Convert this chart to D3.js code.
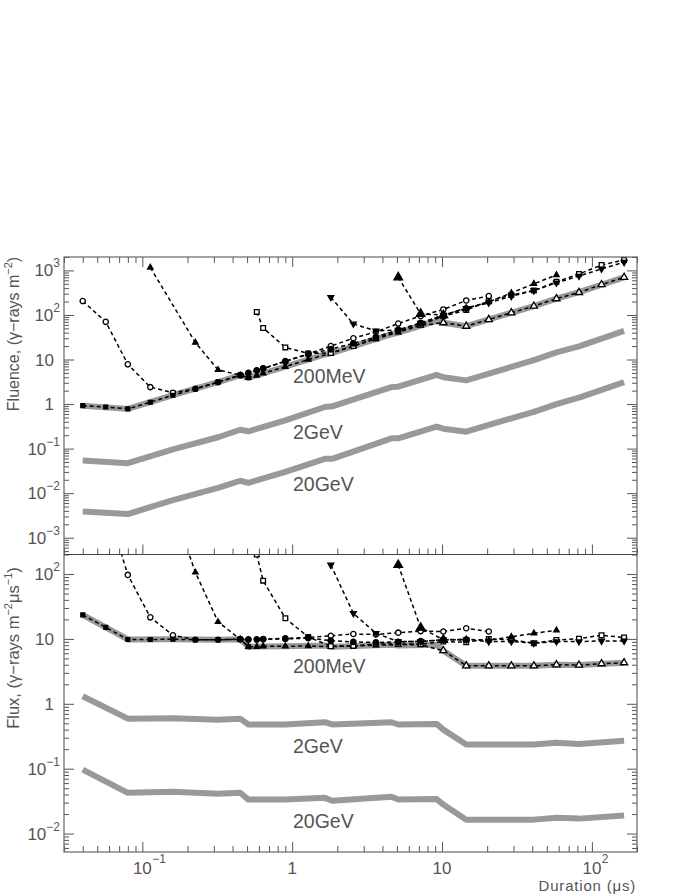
<!DOCTYPE html>
<html>
<head>
<meta charset="utf-8">
<script src="https://cdn.jsdelivr.net/npm/d3@7"></script>
<style>
    body { margin: 0; background: #fff; }
    svg { display: block; }
    text { font-family: "Liberation Sans", Arial, sans-serif; fill: #555; }
</style>
</head>
<body>
<svg id="chart" width="691" height="894"></svg>
<script>
// ---- thick grey envelopes (200MeV, 2GeV, 20GeV) ----
const envDur = [0.04, 0.08, 0.16, 0.32, 0.45, 0.51, 0.9, 1.65, 1.85, 4.6, 5.1, 9.2, 10.2, 14.5, 29, 41, 58, 82, 164];
const env200MeVFlu = [0.92, 0.78, 1.58, 3.1, 4.45, 3.9, 6.9, 13, 14, 37, 40, 74, 67, 56, 112, 158, 232, 324, 700];
const env2GeVFlu = [0.054, 0.047, 0.096, 0.18, 0.265, 0.245, 0.43, 0.86, 0.89, 2.4, 2.45, 4.5, 4.0, 3.4, 6.8, 9.7, 14.5, 19.7, 44];
const env20GeVFlu = [0.0039, 0.0034, 0.007, 0.0131, 0.019, 0.017, 0.030, 0.059, 0.059, 0.17, 0.17, 0.31, 0.28, 0.24, 0.48, 0.67, 1.0, 1.4, 3.1];
const env200MeVFlx = [23.5, 9.8, 9.9, 9.7, 9.9, 7.6, 7.7, 7.9, 7.6, 8.1, 7.9, 8.1, 6.6, 3.85, 3.85, 3.85, 4.0, 3.95, 4.3];
const env2GeVFlx = [1.31, 0.59, 0.60, 0.57, 0.59, 0.48, 0.48, 0.52, 0.48, 0.52, 0.48, 0.49, 0.40, 0.236, 0.236, 0.236, 0.25, 0.24, 0.27];
const env20GeVFlx = [0.097, 0.0425, 0.044, 0.041, 0.0425, 0.0334, 0.0334, 0.0355, 0.032, 0.037, 0.0334, 0.034, 0.028, 0.0164, 0.0164, 0.0164, 0.0175, 0.017, 0.019];
const envNames = ['200MeV', '2GeV', '20GeV'];

// ---- dashed sensitivity curves ----
const durC1 = [0.04, 0.057, 0.08, 0.113, 0.16, 0.226, 0.32, 0.45, 0.64, 0.9, 1.28, 1.81, 2.56, 3.62, 5.1, 7.2, 10.2, 14.5, 20.5];
const fluC1 = [205, 70, 7.8, 2.4, 1.8, 2.2, 3.1, 4.45, 6.3, 9.2, 13.4, 20, 30, 42, 64, 95, 133, 212, 267];
const flxC1 = [5100, 1230, 97, 21.5, 11.4, 9.7, 9.7, 9.9, 9.9, 10.2, 10.5, 11.2, 11.9, 11.7, 12.5, 13.2, 13, 14.6, 13];

const durC2 = [0.04, 0.057, 0.08, 0.113, 0.16, 0.226, 0.32, 0.45, 0.51];
const fluC2 = [0.92, 0.86, 0.78, 1.1, 1.58, 2.2, 3.1, 4.45, 3.9];
const flxC2 = [23.5, 15.1, 9.8, 9.8, 9.9, 9.7, 9.7, 9.9, 7.6];

const durC3 = [0.113, 0.226, 0.32, 0.45, 0.51, 0.58, 0.64, 0.9, 1.28, 1.81, 2.56, 3.62, 5.1, 7.2, 10.2];
const fluC3 = [1160, 24, 5.85, 4.45, 3.9, 4.4, 4.9, 6.9, 10, 13.8, 20, 29, 41, 58, 67];
const flxC3 = [10300, 106, 18.3, 9.9, 7.6, 7.6, 7.7, 7.7, 7.8, 7.6, 7.8, 8.0, 8.1, 8.1, 6.6];

const durC4 = [10.2, 14.5, 20.5, 29, 41, 58, 82, 116, 164];
const fluC4 = [67, 56, 79, 112, 158, 232, 320, 480, 700];
const flxC4 = [6.6, 3.85, 3.85, 3.85, 3.85, 4.0, 3.95, 4.15, 4.3];

const durC5 = [0.58, 0.64, 0.9, 1.28, 1.81, 2.56, 3.62, 5.1, 7.2, 10.2, 14.5, 20.5, 29, 41, 58, 82, 116, 164];
const fluC5 = [117, 51, 18.7, 13.7, 14, 20, 30, 43, 60, 93, 129, 205, 280, 352, 555, 830, 1320, 1720];
const flxC5 = [200, 79, 20.8, 10.7, 7.7, 7.8, 8.3, 8.4, 8.3, 9.1, 8.9, 10, 9.7, 8.6, 9.6, 10.1, 11.4, 10.5];

const durC6 = [1.81, 2.56, 3.62, 5.1, 7.2, 10.2, 14.5, 20.5, 29, 41, 58, 82, 116, 164];
const fluC6 = [250, 63, 44, 46, 66, 99, 140, 187, 264, 353, 528, 746, 1080, 1530];
const flxC6 = [138, 24.8, 12.2, 9.1, 9.1, 9.7, 9.7, 9.1, 9.1, 8.6, 9.1, 9.1, 9.3, 9.3];

const durC7 = [5.1, 7.2, 10.2];
const fluC7 = [700, 106, 99];
const flxC7 = [138, 14.9, 9.7];

const durC8 = [0.45, 0.51, 0.58, 0.64, 0.9, 1.28, 1.81, 2.56, 3.62, 5.1, 7.2, 10.2, 14.5];
const fluC8 = [4.45, 5.0, 5.7, 6.3, 9.0, 13.2, 17, 23, 32, 46, 66, 99, 140];
const flxC8 = [9.9, 9.8, 9.8, 9.9, 10.0, 10.3, 9.4, 9.0, 8.8, 9.0, 9.2, 9.7, 9.7];

const durC9 = [10.2, 14.5, 20.5, 29, 41, 58];
const fluC9 = [99, 143, 195, 313, 500, 790];
const flxC9 = [9.7, 9.9, 9.5, 10.8, 12.2, 13.6];

const curves = [
    {dur: durC1, flu: fluC1, flx: flxC1, mark: 'circleOpen'},
    {dur: durC2, flu: fluC2, flx: flxC2, mark: 'squareFilled'},
    {dur: durC3, flu: fluC3, flx: flxC3, mark: 'triSmall'},
    {dur: durC4, flu: fluC4, flx: flxC4, mark: 'triOpen'},
    {dur: durC5, flu: fluC5, flx: flxC5, mark: 'squareOpen'},
    {dur: durC6, flu: fluC6, flx: flxC6, mark: 'triDown'},
    {dur: durC7, flu: fluC7, flx: flxC7, mark: 'triBig'},
    {dur: durC8, flu: fluC8, flx: flxC8, mark: 'circleFilled'},
    {dur: durC9, flu: fluC9, flx: flxC9, mark: 'triSmall'}
];

// ---- layout ----
const left = 64, right = 637, top1 = 257, mid = 554.5, bot = 852;
const svg = d3.select('#chart');

const x = d3.scaleLog().domain([0.03, 200]).range([left, right]);
const yFlu = d3.scaleLog().domain([4.2e-4, 2000]).range([mid, top1]);
const yFlx = d3.scaleLog().domain([0.0052, 200]).range([bot, mid]);

const defs = svg.append('defs');
defs.append('clipPath').attr('id', 'clipTop').append('rect')
    .attr('x', left).attr('y', top1).attr('width', right - left).attr('height', mid - top1);
defs.append('clipPath').attr('id', 'clipBot').append('rect')
    .attr('x', left).attr('y', mid).attr('width', right - left).attr('height', bot - mid);

const isMajor = v => Math.abs(Math.log10(v) - Math.round(Math.log10(v))) < 1e-6;

// Marker shapes
function drawMarker(g, type, px, py) {
    let sym, size, fill = '#000', rot = 0;
    if (type === 'circleOpen') { sym = d3.symbolCircle; size = 22; fill = '#fff'; }
    else if (type === 'circleFilled') { sym = d3.symbolCircle; size = 24; }
    else if (type === 'squareOpen') { sym = d3.symbolSquare; size = 22; fill = '#fff'; }
    else if (type === 'squareFilled') { sym = d3.symbolSquare; size = 15; }
    else if (type === 'triOpen') { sym = d3.symbolTriangle; size = 22; fill = '#fff'; }
    else if (type === 'triDown') { sym = d3.symbolTriangle; size = 15; rot = 180; }
    else if (type === 'triBig') { sym = d3.symbolTriangle; size = 32; }
    else { sym = d3.symbolTriangle; size = 13; }
    g.append('path')
        .attr('d', d3.symbol().type(sym).size(size)())
        .attr('transform', 'translate(' + px + ',' + py + ') rotate(' + rot + ')')
        .style('fill', fill)
        .style('stroke', '#000')
        .style('stroke-width', 1.3);
}

function drawPanel(y, clipId, envs, key, labelY) {
    let g = svg.append('g').attr('clip-path', 'url(#' + clipId + ')');

    let line = d3.line().x(d => x(d[0])).y(d => y(d[1]));

    // grey envelopes
    envs.forEach(vals => {
        g.append('path')
            .attr('d', line(envDur.map((d, i) => [d, vals[i]])))
            .style('fill', 'none')
            .style('stroke', '#999')
            .style('stroke-width', 6)
            .style('stroke-linejoin', 'round');
    });

    // dashed curves
    curves.forEach(c => {
        g.append('path')
            .attr('d', line(c.dur.map((d, i) => [d, c[key][i]])))
            .style('fill', 'none')
            .style('stroke', '#000')
            .style('stroke-width', 1.5)
            .style('stroke-dasharray', '4,3');
    });
    curves.forEach(c => {
        c.dur.forEach((d, i) => drawMarker(g, c.mark, x(d), y(c[key][i])));
    });

    // energy labels
    envNames.forEach((n, i) => {
        svg.append('text')
            .attr('x', 293).attr('y', labelY[i])
            .style('font-size', '19.5px')
            .text(n);
    });
}

drawPanel(yFlu, 'clipTop', [env200MeVFlu, env2GeVFlu, env20GeVFlu], 'flu', [383, 439, 491]);
drawPanel(yFlx, 'clipBot', [env200MeVFlx, env2GeVFlx, env20GeVFlx], 'flx', [673, 753, 828]);

// ---- axes (inward ticks) ----
function styleAxis(g) {
    g.select('.domain').remove();
    g.selectAll('line').style('stroke', '#555').style('stroke-width', 1);
}

const xTicks = x.ticks();
const xMajor = xTicks.filter(isMajor), xMinor = xTicks.filter(v => !isMajor(v));

[[top1, d3.axisBottom], [mid, d3.axisTop], [bot, d3.axisTop]].forEach(([yy, ax]) => {
    svg.append('g').attr('transform', 'translate(0,' + yy + ')')
        .call(ax(x).tickValues(xMajor).tickSize(10).tickFormat('')).call(styleAxis);
    svg.append('g').attr('transform', 'translate(0,' + yy + ')')
        .call(ax(x).tickValues(xMinor).tickSize(6).tickFormat('')).call(styleAxis);
});

[yFlu, yFlx].forEach(y => {
    let t = y.ticks();
    let maj = t.filter(isMajor), mnr = t.filter(v => !isMajor(v));
    [[left, d3.axisRight], [right, d3.axisLeft]].forEach(([xx, ax]) => {
        svg.append('g').attr('transform', 'translate(' + xx + ',0)')
            .call(ax(y).tickValues(maj).tickSize(10).tickFormat('')).call(styleAxis);
        svg.append('g').attr('transform', 'translate(' + xx + ',0)')
            .call(ax(y).tickValues(mnr).tickSize(5).tickFormat('')).call(styleAxis);
    });

    // y tick labels
    maj.forEach(v => {
        let e = Math.round(Math.log10(v));
        let t = svg.append('text')
            .attr('y', y(v) + 6)
            .attr('text-anchor', 'end')
            .style('font-size', '17px');
        if (e === 0 || e === 1) {
            t.attr('x', 54).text(e === 0 ? '1' : '10');
        } else {
            t.attr('x', 60);
            t.append('tspan').text('10');
            t.append('tspan').attr('dy', -9).style('font-size', '12px')
                .text(e < 0 ? '\u2212' + (-e) : String(e));
        }
    });
});

// x tick labels
xMajor.forEach(v => {
    let e = Math.round(Math.log10(v));
    let px = x(v);
    svg.append('text')
        .attr('x', px).attr('y', 874)
        .attr('text-anchor', 'middle')
        .style('font-size', '17px')
        .text(e === 0 ? '1' : '10');
    if (e < 0 || e > 1) {
        svg.append('text')
            .attr('x', px + 9.8).attr('y', 863)
            .style('font-size', '12px')
            .text(e < 0 ? '\u2212' + (-e) : String(e));
    }
});

// frame and divider
svg.append('rect')
    .attr('x', left).attr('y', top1)
    .attr('width', right - left).attr('height', bot - top1)
    .style('fill', 'none').style('stroke', '#666').style('stroke-width', 1.2);
svg.append('line')
    .attr('x1', left).attr('x2', right).attr('y1', mid).attr('y2', mid)
    .style('stroke', '#444').style('stroke-width', 1.2);

// axis titles
let t1 = svg.append('text')
    .attr('transform', 'translate(19,334) rotate(-90)')
    .attr('text-anchor', 'middle')
    .style('font-size', '16px');
t1.append('tspan').text('Fluence, (\u03b3\u2212rays m');
t1.append('tspan').attr('dy', -7).style('font-size', '11px').text('\u22122');
t1.append('tspan').attr('dy', 7).text(')');

let t2 = svg.append('text')
    .attr('transform', 'translate(19,648) rotate(-90)')
    .attr('text-anchor', 'middle')
    .style('font-size', '16.5px');
t2.append('tspan').text('Flux, (\u03b3\u2212rays m');
t2.append('tspan').attr('dy', -7).style('font-size', '11px').text('\u22122');
t2.append('tspan').attr('dy', 7).text('\u03bcs');
t2.append('tspan').attr('dy', -7).style('font-size', '11px').text('\u22121');
t2.append('tspan').attr('dy', 7).text(')');

svg.append('text')
    .attr('x', 636).attr('y', 890.8)
    .attr('text-anchor', 'end')
    .style('font-size', '15px')
    .style('letter-spacing', '0.8px')
    .text('Duration (\u03bcs)');
</script>
</body>
</html>
